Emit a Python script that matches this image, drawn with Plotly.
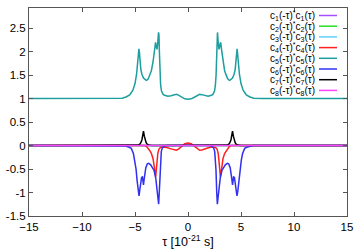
import plotly.graph_objects as go

# ---------------- data ----------------
tau_zero = [-15, 15]
c1 = [0, 0]
c2 = [0, 0]
c3 = [0, 0]
c8 = [0, 0]

tau_c5 = [-15, -7.0, -6.2, -5.8, -5.5, -5.2, -5.0, -4.85, -4.75, -4.68, -4.63, -4.58, -4.52, -4.45,
          -4.35, -4.2, -4.0, -3.9, -3.75, -3.6, -3.45, -3.3, -3.18, -3.1, -3.06, -2.98, -2.92,
          -2.85, -2.78, -2.74, -2.7, -2.65, -2.58, -2.5, -2.35, -2.2, -1.9, -1.6, -1.3, -1.1,
          -0.9, -0.6, -0.3, 0.0,
          0.3, 0.6, 0.9, 1.1, 1.3, 1.6, 1.9, 2.2, 2.35, 2.5, 2.58, 2.65, 2.7, 2.74, 2.78, 2.85,
          2.92, 2.98, 3.06, 3.1, 3.18, 3.3, 3.45, 3.6, 3.75, 3.9, 4.0, 4.2, 4.35, 4.45, 4.52,
          4.58, 4.63, 4.68, 4.75, 4.85, 5.0, 5.2, 5.5, 5.8, 6.2, 7.0, 15]
c5 = [1.0, 1.0, 1.01, 1.04, 1.08, 1.18, 1.32, 1.52, 1.75, 1.95, 2.06, 1.98, 1.78, 1.62,
      1.52, 1.44, 1.40, 1.39, 1.42, 1.50, 1.60, 1.78, 2.02, 2.17, 2.2, 2.1, 2.05,
      2.2, 2.41, 2.36, 2.0, 1.5, 1.28, 1.16, 1.09, 1.07, 1.05, 1.06, 1.085, 1.09,
      1.075, 1.03, 0.995, 0.985,
      0.995, 1.03, 1.075, 1.09, 1.085, 1.06, 1.05, 1.07, 1.09, 1.16, 1.28, 1.5, 2.0, 2.36, 2.41, 2.2,
      2.05, 2.1, 2.2, 2.17, 2.02, 1.78, 1.60, 1.50, 1.42, 1.39, 1.40, 1.44, 1.52, 1.62, 1.78,
      1.98, 2.06, 1.95, 1.75, 1.52, 1.32, 1.18, 1.08, 1.04, 1.01, 1.0, 1.0]

tau_c4 = [-15, -4.1, -3.9, -3.75, -3.6, -3.45, -3.3, -3.2, -3.12, -3.05, -2.98, -2.92, -2.85,
          -2.75, -2.6, -2.3, -2.0, -1.6, -1.3, -1.1, -0.9, -0.6, -0.3, 0.0,
          0.3, 0.6, 0.9, 1.1, 1.3, 1.6, 2.0, 2.3, 2.6, 2.75, 2.85, 2.92, 2.98, 3.05, 3.12,
          3.2, 3.3, 3.45, 3.6, 3.75, 3.9, 4.1, 15]
c4 = [0, 0, -0.02, -0.06, -0.11, -0.17, -0.28, -0.42, -0.58, -0.66, -0.5, -0.32, -0.17,
      -0.08, -0.04, -0.03, -0.04, -0.07, -0.095, -0.1, -0.075, -0.01, 0.04, 0.055,
      0.04, -0.01, -0.075, -0.1, -0.095, -0.07, -0.04, -0.03, -0.04, -0.08, -0.17, -0.32, -0.5, -0.66, -0.58,
      -0.42, -0.28, -0.17, -0.11, -0.06, -0.02, 0, 0]

tau_c6 = [-15, -6.2, -5.9, -5.6, -5.35, -5.15, -5.03, -4.9, -4.81, -4.7, -4.62, -4.55, -4.46,
          -4.38, -4.3, -4.24, -4.2, -4.15, -4.08, -3.98, -3.84, -3.7, -3.52, -3.35, -3.2,
          -3.05, -2.95, -2.85, -2.77, -2.71, -2.64, -2.58, -2.52, -2.42, -2.3, -2.0,
          2.0, 2.3, 2.42, 2.52, 2.58, 2.64, 2.71, 2.77, 2.85, 2.95, 3.05, 3.2, 3.35, 3.52,
          3.7, 3.84, 3.98, 4.08, 4.15, 4.2, 4.24, 4.3, 4.38, 4.46, 4.55, 4.62, 4.7, 4.81,
          4.9, 5.03, 5.15, 5.35, 5.6, 5.9, 6.2, 15]
c6 = [0, 0, -0.01, -0.03, -0.06, -0.17, -0.31, -0.5, -0.73, -0.97, -1.07, -0.95, -0.8,
      -0.68, -0.67, -0.77, -0.84, -0.74, -0.59, -0.47, -0.39, -0.38, -0.41, -0.46, -0.53,
      -0.68, -0.86, -1.08, -1.25, -1.0, -0.52, -0.3, -0.13, -0.05, -0.02, 0,
      0, -0.02, -0.05, -0.13, -0.3, -0.52, -1.0, -1.25, -1.08, -0.86, -0.68, -0.53, -0.46, -0.41,
      -0.38, -0.39, -0.47, -0.59, -0.74, -0.84, -0.77, -0.67, -0.68, -0.8, -0.95, -1.07, -0.97, -0.73,
      -0.5, -0.31, -0.17, -0.06, -0.03, -0.01, 0, 0]

tau_c7 = [-15, -5.0, -4.7, -4.55, -4.45, -4.35, -4.28, -4.2, -4.12, -4.05, -3.95, -3.85, -3.7, -3.4,
          3.4, 3.7, 3.85, 3.95, 4.05, 4.12, 4.2, 4.28, 4.35, 4.45, 4.55, 4.7, 5.0, 15]
c7 = [0, 0, 0.01, 0.03, 0.06, 0.12, 0.2, 0.31, 0.2, 0.12, 0.06, 0.03, 0.01, 0,
      0, 0.01, 0.03, 0.06, 0.12, 0.2, 0.31, 0.2, 0.12, 0.06, 0.03, 0.01, 0, 0]

x_ticks = [-15, -10, -5, 0, 5, 10, 15]
y_ticks = [-1.5, -1, -0.5, 0, 0.5, 1, 1.5, 2, 2.5]
y_tick_labels = ["-1.5", "-1", "-0.5", "0", "0.5", "1", "1.5", "2", "2.5"]

labels = ["c<sub>%d</sub>(-τ)<sup>*</sup>c<sub>%d</sub>(τ)" % (i, i) for i in range(1, 9)]
colors = ["#a64dff", "#22e022", "#5fd0ff", "#ff2020", "#1e9e9e", "#3030f0", "#000000", "#ff45ff"]

series = [(tau_zero, c1), (tau_zero, c2), (tau_zero, c3), (tau_c4, c4),
          (tau_c5, c5), (tau_c6, c6), (tau_c7, c7), (tau_zero, c8)]

# ---------------- figure ----------------
fig = go.Figure()
for (tx, ty), name, col in zip(series, labels, colors):
    fig.add_trace(go.Scatter(x=tx, y=ty, mode="lines", name=name,
                             line=dict(color=col, width=1.5), showlegend=False))

FONT = "Liberation Sans, Arial, sans-serif"
frame = "#555555"

# manual legend (text on the left, sample line on the right, like gnuplot)
L, R, T, B = 29, 347, 8, 216
W, H = R - L, B - T
row0, dy = 15.5, 10.7
for i, (name, col) in enumerate(zip(labels, colors)):
    yp = row0 + i * dy
    ypaper = (B - yp) / H
    fig.add_annotation(x=(317 - L) / W, y=ypaper, xref="paper", yref="paper",
                       text=name, showarrow=False, xanchor="right", yanchor="middle",
                       font=dict(family=FONT, size=10, color="#000000"))
    fig.add_shape(type="line", xref="paper", yref="paper",
                  x0=(319 - L) / W, x1=(337 - L) / W, y0=ypaper, y1=ypaper,
                  line=dict(color=col, width=1.5))

fig.update_layout(
    width=359, height=252,
    margin=dict(l=L, r=359 - R, t=T, b=252 - B, pad=0),
    paper_bgcolor="white", plot_bgcolor="white",
    font=dict(family=FONT, size=11, color="#000000"),
    xaxis=dict(range=[-15, 15], tickvals=x_ticks, ticks="inside", ticklen=4,
               tickcolor=frame, showline=True, linecolor=frame, linewidth=1,
               mirror="allticks", showgrid=False, zeroline=False, automargin=False,
               title=dict(text="τ [10<sup>-21</sup> s]", standoff=0,
                          font=dict(family=FONT, size=12.5)),
               tickfont=dict(size=11.5)),
    yaxis=dict(range=[-1.5, 2.93], tickvals=y_ticks, ticktext=y_tick_labels,
               ticks="inside", ticklen=4, tickcolor=frame, showline=True,
               linecolor=frame, linewidth=1, mirror="allticks", showgrid=False,
               zeroline=False, automargin=False, tickfont=dict(size=11.5)),
    showlegend=False,
)

fig.write_html("out.html", config={"displayModeBar": False},
               post_script="document.body.style.margin='0';document.body.style.padding='0';")
